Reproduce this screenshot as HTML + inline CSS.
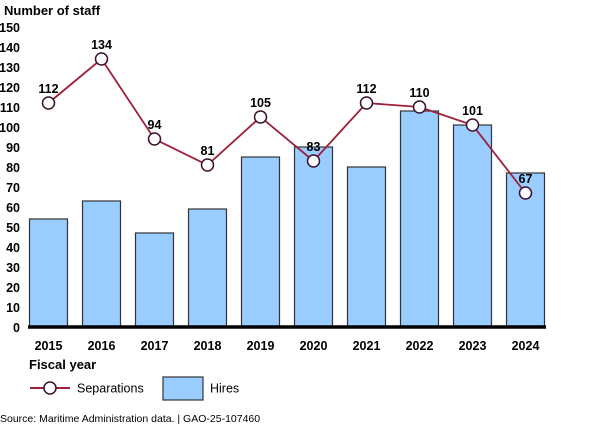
<!DOCTYPE html>
<html><head><meta charset="utf-8"><style>
body{margin:0;background:#fff;}
svg{display:block;font-family:"Liberation Sans",Arial,sans-serif;}
</style></head><body>
<svg width="600" height="426">
<text x="4" y="15" font-size="13" font-weight="bold" fill="#000">Number of staff</text>
<g id="yticks"></g>
<g id="bars"></g>
<g id="line"></g>
<g id="xticks"></g>
<text x="29" y="369" font-size="13" font-weight="bold">Fiscal year</text>
<g>
<line x1="30" y1="388" x2="70" y2="388" stroke="#a0203a" stroke-width="2"/>
<circle cx="50" cy="388" r="6" fill="#fff" stroke="#3a1030" stroke-width="1.5"/>
<text x="77" y="392.5" font-size="12.5">Separations</text>
<rect x="163" y="377" width="40" height="23" fill="#99ccff" stroke="#333" stroke-width="1.2"/>
<text x="210" y="392.5" font-size="12.5">Hires</text>
</g>
<text x="0" y="422" font-size="10.5">Source: Maritime Administration data.  |  GAO-25-107460</text>
</svg>
<script>
const years=['2015','2016','2017','2018','2019','2020','2021','2022','2023','2024'];
const hires=[54,63,47,59,85,90,80,108,101,77];
const separations=[112,134,94,81,105,83,112,110,101,67];
const yTicks=[0,10,20,30,40,50,60,70,80,90,100,110,120,130,140,150];
const NS='http://www.w3.org/2000/svg';
const y=v=>327-2*v;
const x=i=>48.5+i*53;
function mk(t,a,p){const e=document.createElementNS(NS,t);for(const k in a)e.setAttribute(k,a[k]);p.appendChild(e);return e;}
const yt=document.getElementById('yticks');
yTicks.forEach(v=>{const t=mk('text',{x:20,y:y(v)+5,'text-anchor':'end','font-size':12.5,'font-weight':'bold'},yt);t.textContent=v;

});
const bg=document.getElementById('bars');
hires.forEach((v,i)=>{const r=mk('rect',{x:x(i)-19,y:y(v),width:38,height:y(0)-y(v),fill:'#99ccff',stroke:'#333','stroke-width':1.2},bg);

});
const ax=mk('line',{x1:28,y1:327,x2:546,y2:327,stroke:'#000','stroke-width':3.5},bg);


const lg=document.getElementById('line');
const pl=mk('polyline',{points:separations.map((v,i)=>x(i)+','+y(v)).join(' '),fill:'none',stroke:'#a0203a','stroke-width':1.8},lg);


separations.forEach((v,i)=>{const c=mk('circle',{cx:x(i),cy:y(v),r:6,fill:'#fff',stroke:'#3a1030','stroke-width':1.5},lg);


const t=mk('text',{x:x(i),y:y(v)-10,'text-anchor':'middle','font-size':12.5,'font-weight':'bold'},lg);t.textContent=v;

});
const xt=document.getElementById('xticks');
years.forEach((s,i)=>{const t=mk('text',{x:x(i),y:350,'text-anchor':'middle','font-size':12.5,'font-weight':'bold'},xt);t.textContent=s;

});
</script>
</body></html>
